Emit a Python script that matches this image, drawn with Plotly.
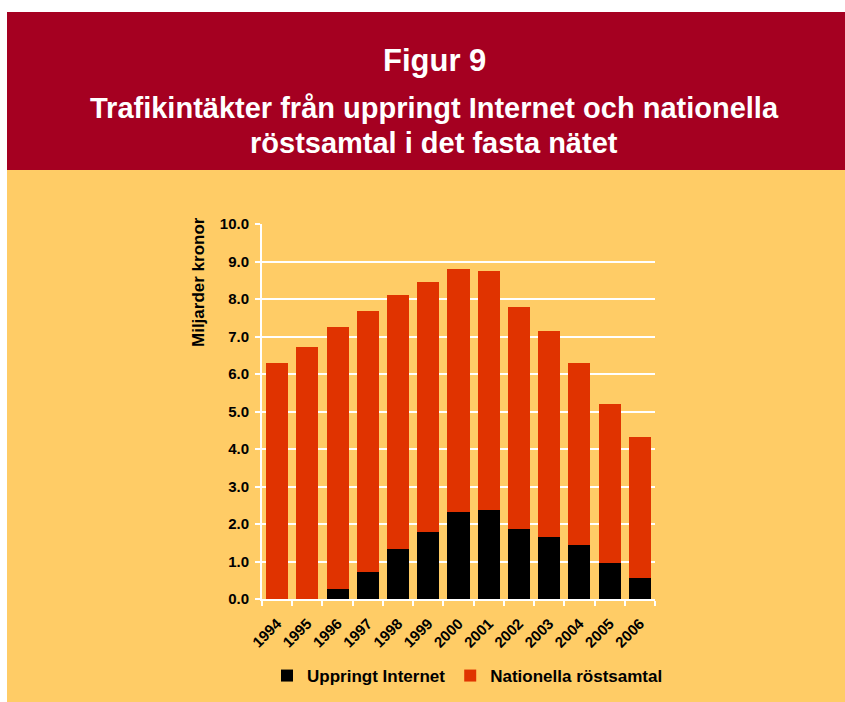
import plotly.graph_objects as go

years = ["1994", "1995", "1996", "1997", "1998", "1999", "2000",
         "2001", "2002", "2003", "2004", "2005", "2006"]
internet = [0.0, 0.0, 0.27, 0.72, 1.33, 1.78, 2.33, 2.38, 1.87, 1.65, 1.45, 0.95, 0.57]
totals = [6.30, 6.71, 7.25, 7.68, 8.10, 8.45, 8.80, 8.75, 7.79, 7.14, 6.29, 5.20, 4.32]
nationella = [round(t - i, 2) for t, i in zip(totals, internet)]
y_ticks = [0, 1, 2, 3, 4, 5, 6, 7, 8, 9, 10]

W, H = 845, 702
L, R, T, B = 262, 655, 224, 599
pw, ph = R - L, B - T

def px(x):
    return (x - L) / pw

def py(y):
    return (B - y) / ph

FONT = "Liberation Sans, Arial, sans-serif"
YELLOW = "#FFCC66"
HEADER = "#A50021"
RED = "#E03300"

fig = go.Figure()
fig.add_trace(go.Bar(x=years, y=internet, name="Uppringt Internet",
                     marker=dict(color="#000000", line=dict(width=0))))
fig.add_trace(go.Bar(x=years, y=nationella, name="Nationella röstsamtal",
                     marker=dict(color=RED, line=dict(width=0))))

shapes = [
    dict(type="rect", xref="paper", yref="paper", x0=px(-5), x1=px(W + 5), y0=py(-5), y1=py(12),
         fillcolor="white", line=dict(width=0), layer="below"),
    dict(type="rect", xref="paper", yref="paper", x0=px(-5), x1=px(7), y0=py(-5), y1=py(H + 5),
         fillcolor="white", line=dict(width=0), layer="below"),
    dict(type="rect", xref="paper", yref="paper", x0=px(7), x1=px(W + 5), y0=py(12), y1=py(170),
         fillcolor=HEADER, line=dict(width=0), layer="below"),
]

annotations = [
    dict(text="Figur 9", xref="paper", yref="paper", x=px(434), y=py(60),
         showarrow=False, xanchor="center", yanchor="middle",
         font=dict(family=FONT, size=31, color="white", weight="bold")),
    dict(text="Trafikintäkter från uppringt Internet och nationella", xref="paper", yref="paper",
         x=px(434), y=py(108), showarrow=False, xanchor="center", yanchor="middle",
         font=dict(family=FONT, size=29, color="white", weight="bold")),
    dict(text="röstsamtal i det fasta nätet", xref="paper", yref="paper",
         x=px(434), y=py(143), showarrow=False, xanchor="center", yanchor="middle",
         font=dict(family=FONT, size=29, color="white", weight="bold")),
    dict(text="Miljarder kronor", xref="paper", yref="paper", x=px(198), y=py(282),
         showarrow=False, textangle=-90, xanchor="center", yanchor="middle",
         font=dict(family=FONT, size=17, color="black", weight="bold")),
]

fig.update_layout(
    width=W, height=H,
    margin=dict(l=L, r=W - R, t=T, b=H - B, pad=0, autoexpand=False),
    paper_bgcolor=YELLOW, plot_bgcolor=YELLOW,
    barmode="stack", bargap=0.27,
    shapes=shapes, annotations=annotations,
    showlegend=True,
    legend=dict(orientation="h", traceorder="normal",
                x=px(668), y=py(676), xanchor="right", yanchor="middle",
                font=dict(family=FONT, size=17, color="black", weight="bold"),
                bgcolor="rgba(0,0,0,0)", itemwidth=30, tracegroupgap=0),
    xaxis=dict(type="category", tickson="boundaries", ticks="outside", ticklen=5,
               tickcolor="white", tickwidth=2, showline=True, linecolor="white", linewidth=2,
               showgrid=False, tickangle=-45, ticklabelstandoff=8,
               tickfont=dict(family=FONT, size=15, color="black", weight="bold")),
    yaxis=dict(range=[0, 10], tickvals=y_ticks, tickformat=".1f", ticks="outside", ticklen=5,
               tickcolor="white", tickwidth=2, showline=True, linecolor="white", linewidth=2,
               showgrid=True, gridcolor="white", gridwidth=2, zeroline=False,
               ticklabelstandoff=3,
               tickfont=dict(family=FONT, size=15, color="black", weight="bold")),
)

fig.write_html("out.html", config={"displayModeBar": False},
               post_script="document.body.style.margin='0px';")
